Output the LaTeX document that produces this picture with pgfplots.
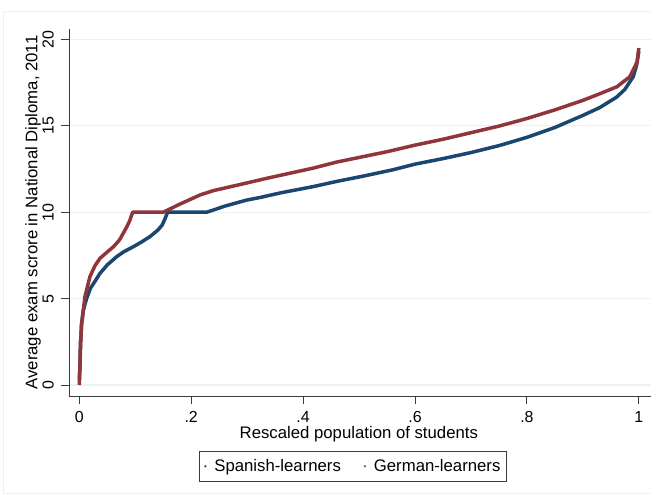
\documentclass[border=0pt]{standalone}
\usepackage{fontspec}
\setmainfont{Liberation Sans}
\usepackage{pgfplots}
\pgfplotsset{compat=1.18}
\definecolor{stnavy}{RGB}{26,71,111}
\definecolor{stmaroon}{RGB}{144,53,59}
\definecolor{stgrid}{RGB}{234,242,243}
\definecolor{staxis}{RGB}{60,60,60}
\begin{document}
\begin{tikzpicture}[x=1bp,y=1bp]
\draw[color=gray!12, line width=0.8bp] (3.5,-11) rectangle (660,-493);
\begin{axis}[
  at={(69bp,-396bp)}, anchor=south west,
  scale only axis, width=582bp, height=367bp,
  xmin=-0.0184, xmax=1.0218, ymin=-0.637, ymax=20.6,
  axis lines*=left,
  axis line style={staxis, line width=0.9bp},
  tick style={staxis, line width=0.9bp},
  tick align=outside, major tick length=8bp,
  xtick={0,0.2,0.4,0.6,0.8,1}, xticklabels={0,.2,.4,.6,.8,1},
  ytick={0,5,10,15,20},
  ymajorgrids, grid style={stgrid, line width=1.2bp},
  /pgf/number format/assume math mode=true,
  ticklabel style={font=\fontsize{16}{18}\selectfont},
  yticklabel style={rotate=90, anchor=south, inner sep=2bp, yshift=5bp},
  xticklabel style={inner sep=3bp, yshift=-4bp},
  label style={font=\fontsize{16.8}{19}\selectfont},
  xlabel={Rescaled population of students},
  ylabel={Average exam scrore in National Diploma, 2011},
  xlabel style={at={(axis description cs:0.498,0)}, anchor=north, yshift=-30bp, inner sep=0pt},
  ylabel style={at={(axis description cs:0,0.5)}, anchor=south, rotate=0, yshift=28bp, inner sep=0pt},
  legend style={at={(axis description cs:0,0)}, anchor=north west, xshift=130bp, yshift=-55bp,
    draw=staxis, line width=0.8bp, font=\fontsize{16.8}{19}\selectfont,
    inner xsep=4bp, inner ysep=6bp, row sep=0pt},
  legend columns=2,
  legend cell align=left,
  /tikz/every even column/.append style={column sep=20bp},
  clip=false,
]
\addplot[stnavy, line width=3.5bp, line join=round,
  legend image code/.code={\path[draw=none,fill=none] (0bp,-1bp) rectangle (9bp,1bp); \fill[stnavy,draw=none] (2bp,0bp) circle (1.2bp);}] coordinates {
(0.000,0.3) (0.001,1.0) (0.002,2.0) (0.003,2.8) (0.004,3.5) (0.007,4.3)
(0.013,5.0) (0.020,5.6) (0.030,6.1) (0.037,6.46) (0.050,6.95) (0.067,7.43)
(0.080,7.72) (0.0965,8.0) (0.110,8.25) (0.126,8.58) (0.140,8.95) (0.148,9.25)
(0.153,9.6) (0.156,9.85) (0.158,10.0) (0.228,10.0) (0.260,10.35) (0.299,10.7)
(0.323,10.85) (0.360,11.12) (0.418,11.48) (0.460,11.78) (0.508,12.09)
(0.560,12.45) (0.600,12.78) (0.650,13.1) (0.700,13.45) (0.750,13.85)
(0.800,14.33) (0.850,14.9) (0.900,15.6) (0.930,16.05) (0.960,16.65)
(0.975,17.1) (0.990,17.84) (0.996,18.5) (1.000,19.3)
};
\addlegendentry{Spanish-learners}
\addplot[stmaroon, line width=3.5bp, line join=round,
  legend image code/.code={\path[draw=none,fill=none] (0bp,-1bp) rectangle (9bp,1bp); \fill[stmaroon,draw=none] (2bp,0bp) circle (1.2bp);}] coordinates {
(0.000,0.0) (0.001,0.9) (0.002,2.5) (0.003,2.8) (0.004,3.5) (0.006,4.0)
(0.010,5.1) (0.019,6.27) (0.028,6.9) (0.037,7.33) (0.050,7.7) (0.061,8.0)
(0.072,8.4) (0.085,9.16) (0.090,9.5) (0.0954,10.0) (0.150,10.0) (0.180,10.47)
(0.216,11.0) (0.240,11.25) (0.290,11.62) (0.335,11.96) (0.418,12.55)
(0.460,12.9) (0.508,13.22) (0.550,13.5) (0.600,13.88) (0.650,14.22)
(0.700,14.6) (0.750,14.98) (0.800,15.42) (0.850,15.92) (0.900,16.47)
(0.930,16.85) (0.961,17.26) (0.984,17.84) (0.997,18.7) (1.000,19.5)
};
\addlegendentry{German-learners}
\end{axis}
\pgfresetboundingbox
\path (0,0) rectangle (651,-496);
\end{tikzpicture}
\end{document}
